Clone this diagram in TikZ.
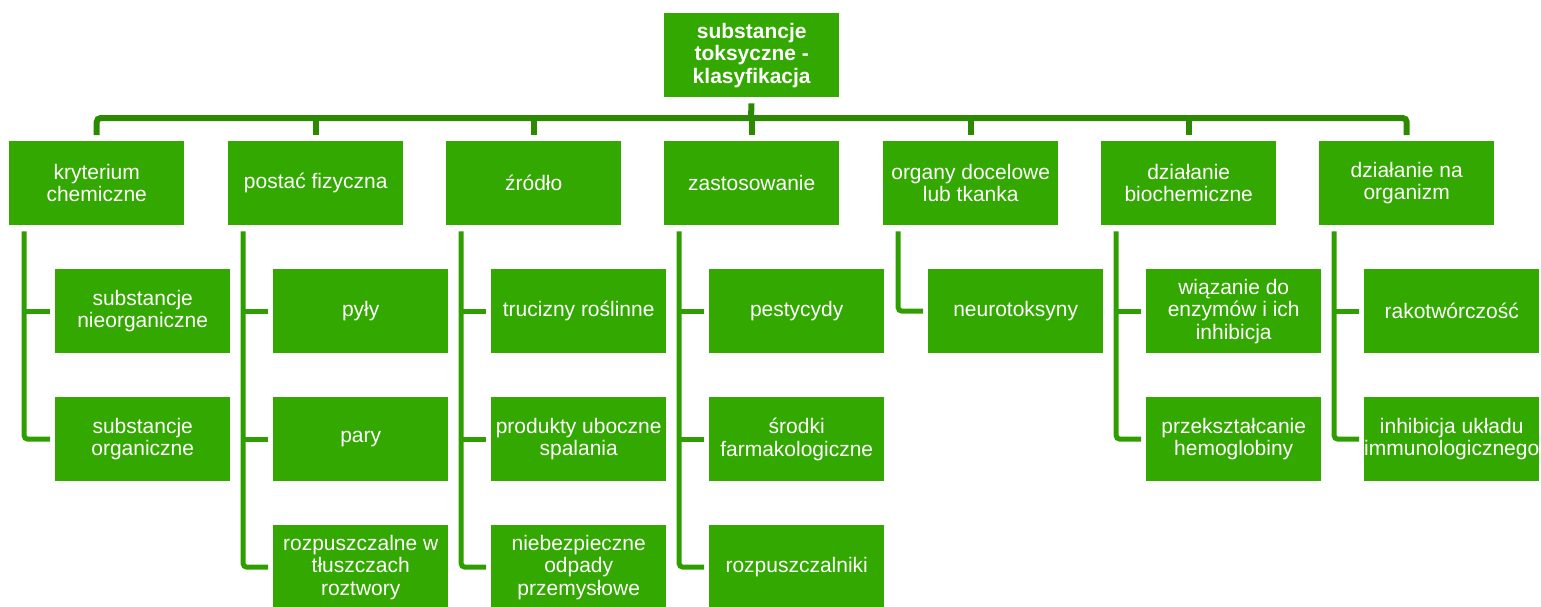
\documentclass[tikz,border=0pt]{standalone}
\usepackage{fontspec}
\setmainfont{Liberation Sans}
\definecolor{boxgreen}{RGB}{51,168,0}
\definecolor{linegreen}{RGB}{47,158,0}
\definecolor{bargreen}{RGB}{44,138,0}
\begin{document}
\begin{tikzpicture}[x=1pt,y=-1pt,
  box/.style={rectangle,fill=boxgreen,text=white,minimum width=175pt,minimum height=84pt,
    inner sep=0pt,align=center,anchor=north west,font=\fontsize{21}{22.5}\selectfont},
  topbox/.style={box,font=\fontsize{21}{22.5}\selectfont\bfseries},
  bar/.style={draw=bargreen,line width=6pt},
  conn/.style={draw=linegreen,line width=5pt,rounded corners=4pt}]
\useasboundingbox (0,0) rectangle (1541,606);
\clip (0,0) rectangle (1541,606);
% root
\node[topbox] (r) at (664,13) {substancje\\toksyczne -\\klasyfikacja};
% level 1
\node[box] (c1) at (9,141) {kryterium\\chemiczne};
\node[box] (c2) at (228,141) {postać fizyczna};
\node[box] (c3) at (446,141) {źródło};
\node[box] (c4) at (664,141) {zastosowanie};
\node[box] (c5) at (883,141) {organy docelowe\\lub tkanka};
\node[box] (c6) at (1101,141) {działanie\\biochemiczne};
\node[box] (c7) at (1319,141) {działanie na\\organizm};
% level 2
\node[box] (c1a) at (55,269) {substancje\\nieorganiczne};
\node[box] (c1b) at (55,397) {substancje\\organiczne};
\node[box] (c2a) at (273,269) {pyły};
\node[box] (c2b) at (273,397) {pary};
\node[box] (c2c) at (273,525) {rozpuszczalne w\\tłuszczach\\roztwory};
\node[box] (c3a) at (491,269) {trucizny roślinne};
\node[box] (c3b) at (491,397) {produkty uboczne\\spalania};
\node[box] (c3c) at (491,525) {niebezpieczne\\odpady\\przemysłowe};
\node[box] (c4a) at (709,269) {pestycydy};
\node[box] (c4b) at (709,397) {środki\\farmakologiczne};
\node[box] (c4c) at (709,525) {rozpuszczalniki};
\node[box] (c5a) at (928,269) {neurotoksyny};
\node[box] (c6a) at (1146,269) {wiązanie do\\enzymów i ich\\inhibicja};
\node[box] (c6b) at (1146,397) {przekształcanie\\hemoglobiny};
\node[box] (c7a) at (1364,269) {rakotwórczość};
\node[box] (c7b) at (1364,397) {inhibicja układu\\immunologicznego};
% top bar
\coordinate (b) at (751,118);
\draw[bar,rounded corners=4pt,shorten <=6pt,shorten >=6pt] (c1.north) |- (b) -| (c7.north);
\draw[bar,shorten <=6pt] (r.south) -- (b);
\foreach \c in {c2,c3,c4,c5,c6}{
  \draw[bar,shorten >=6pt] (b -| \c.north) -- (\c.north);
}
% child connectors
\foreach \p/\last/\others in {c1/c1b/{c1a}, c2/c2c/{c2a,c2b}, c3/c3c/{c3a,c3b}, c4/c4c/{c4a,c4b}, c5/c5a/{}, c6/c6b/{c6a}, c7/c7b/{c7a}}{
  \coordinate (v) at ([xshift=15pt]\p.south west);
  \draw[conn,shorten <=6pt,shorten >=5pt] (v) |- (\last.west);
  \foreach \o in \others {
    \draw[conn,shorten >=5pt] (v |- \o.west) -- (\o.west);
  }
}
\end{tikzpicture}
\end{document}
